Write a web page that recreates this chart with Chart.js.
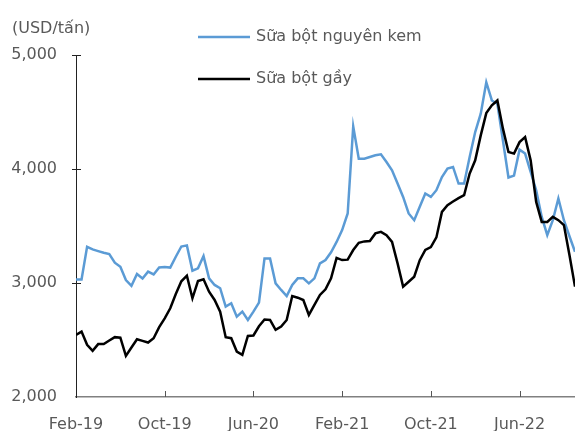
<!DOCTYPE html>
<html lang="vi">
<head>
    <meta charset="UTF-8">
    <title>Giá sữa bột</title>
    <script src="https://cdn.jsdelivr.net/npm/chart.js"></script>
    <style>
        body {
            margin: 0;
            background: #fff;
        }
        .chart-box {
            position: relative;
            width: 575px;
            height: 431px;
        }
    </style>
</head>
<body>
    <div class="chart-box">
        <canvas id="milkChart"></canvas>
    </div>

    <script>
        // Tick labels on the x axis, one every 16 auctions (8 months)
        const tickLabels = ['Feb-19', 'Oct-19', 'Jun-20', 'Feb-21', 'Oct-21', 'Jun-22'];
        const unitLabel = '(USD/tấn)';
        const seriesNames = ['Sữa bột nguyên kem', 'Sữa bột gầy'];

        // Whole milk powder, USD/tonne, auction by auction
        const wholeMilk = [
            3030, 3030, 3318, 3295, 3280, 3265, 3254, 3178, 3143, 3026,
            2975, 3079, 3040, 3100, 3075, 3137, 3140, 3135, 3230, 3320,
            3330, 3108, 3129, 3236, 3041, 2983, 2954, 2793, 2822, 2705,
            2749, 2676, 2749, 2828, 3216, 3216, 2997, 2939, 2886, 2983,
            3041, 3041, 2997, 3041, 3172, 3201, 3270, 3360, 3464, 3610,
            4374, 4091, 4091, 4105, 4120, 4129, 4061, 3989, 3872, 3755,
            3610, 3551, 3668, 3785, 3755, 3814, 3930, 4004, 4018, 3872,
            3872, 4105, 4324, 4485, 4761, 4601, 4572, 4250, 3925, 3942,
            4170, 4135, 3974, 3814, 3580, 3420, 3551, 3741, 3551, 3410,
            3274
        ];

        // Skim milk powder, USD/tonne
        const skimMilk = [
            2545, 2574, 2458, 2405, 2464, 2464, 2495, 2525, 2520, 2361,
            2434, 2507, 2492, 2478, 2515, 2613, 2690, 2778, 2903, 3015,
            3064, 2866, 3017, 3032, 2924, 2851, 2749, 2525, 2516, 2399,
            2370, 2536, 2540, 2620, 2680, 2676, 2589, 2618, 2676, 2886,
            2871, 2851, 2720, 2808, 2895, 2945, 3041, 3220, 3201, 3205,
            3289, 3353, 3365, 3368, 3435, 3449, 3420, 3361, 3172, 2968,
            3011, 3055, 3200, 3290, 3315, 3400, 3624, 3683, 3715, 3745,
            3770, 3960, 4076, 4295, 4490, 4558, 4601, 4354, 4149, 4135,
            4236, 4280, 4076, 3711, 3536, 3536, 3580, 3551, 3508, 3245,
            2968
        ];

        const textColor = '#595959';
        const fontFamily = '"DejaVu Sans", sans-serif';

        // Unit label, custom legend inside the plot, and Excel-style tick marks
        const decorPlugin = {
            id: 'decor',
            afterDraw(chart) {
                const ctx = chart.ctx;
                const xs = chart.scales.x;
                const ys = chart.scales.y;
                ctx.save();

                // y tick marks cross the axis
                ctx.strokeStyle = '#222';
                ctx.lineWidth = 1;
                ys.ticks.forEach(t => {
                    if (t.value === ys.min) return;
                    const y = Math.round(ys.getPixelForValue(t.value)) + 0.5;
                    ctx.beginPath();
                    ctx.moveTo(xs.left - 4, y);
                    ctx.lineTo(xs.left + 5, y);
                    ctx.stroke();
                });

                // x tick marks point up into the plot
                ctx.strokeStyle = '#555';
                xs.ticks.forEach(t => {
                    if (t.value === xs.min) return;
                    const x = Math.round(xs.getPixelForValue(t.value)) + 0.5;
                    ctx.beginPath();
                    ctx.moveTo(x, ys.bottom);
                    ctx.lineTo(x, ys.bottom - 6);
                    ctx.stroke();
                });

                ctx.font = '16px ' + fontFamily;
                ctx.fillStyle = textColor;
                ctx.textBaseline = 'middle';
                ctx.textAlign = 'left';
                ctx.fillText(unitLabel, 12, 29);

                // legend
                chart.data.datasets.forEach((ds, k) => {
                    const y = 37 + k * 42;
                    ctx.strokeStyle = ds.borderColor;
                    ctx.lineWidth = 2.5;
                    ctx.beginPath();
                    ctx.moveTo(198, y);
                    ctx.lineTo(250, y);
                    ctx.stroke();
                    ctx.fillStyle = textColor;
                    ctx.fillText(ds.label, 256, y);
                });
                ctx.restore();
            }
        };

        const ctx = document.getElementById('milkChart').getContext('2d');
        new Chart(ctx, {
            type: 'line',
            data: {
                datasets: [
                    {
                        label: seriesNames[0],
                        data: wholeMilk.map((v, i) => ({ x: i, y: v })),
                        borderColor: '#5b9bd5',
                        borderWidth: 2.5,
                        pointRadius: 0,
                        tension: 0,
                        order: 1
                    },
                    {
                        label: seriesNames[1],
                        data: skimMilk.map((v, i) => ({ x: i, y: v })),
                        borderColor: '#000000',
                        borderWidth: 2.5,
                        pointRadius: 0,
                        tension: 0,
                        order: 0
                    }
                ]
            },
            options: {
                responsive: true,
                maintainAspectRatio: false,
                animation: false,
                layout: {
                    padding: { top: 55, right: 0, left: 0, bottom: 0 }
                },
                plugins: {
                    legend: { display: false },
                    tooltip: { enabled: false }
                },
                scales: {
                    x: {
                        type: 'linear',
                        min: 0,
                        max: wholeMilk.length - 1,
                        grid: { display: false, drawTicks: false },
                        border: { display: true, color: '#808080', width: 1.5 },
                        afterFit: scale => { scale.height = 34; },
                        ticks: {
                            stepSize: 16,
                            includeBounds: false,
                            autoSkip: false,
                            maxRotation: 0,
                            padding: 18,
                            color: textColor,
                            font: { family: fontFamily, size: 16 },
                            callback: value => tickLabels[value / 16] || ''
                        }
                    },
                    y: {
                        min: 2000,
                        max: 5000,
                        grid: { display: false, drawTicks: false },
                        border: { display: true, color: '#222', width: 1 },
                        afterFit: scale => { scale.width = 76; },
                        ticks: {
                            stepSize: 1000,
                            padding: 19,
                            color: textColor,
                            font: { family: fontFamily, size: 16 },
                            callback: value => value.toLocaleString('en-US')
                        }
                    }
                }
            },
            plugins: [decorPlugin]
        });
    </script>
</body>
</html>
